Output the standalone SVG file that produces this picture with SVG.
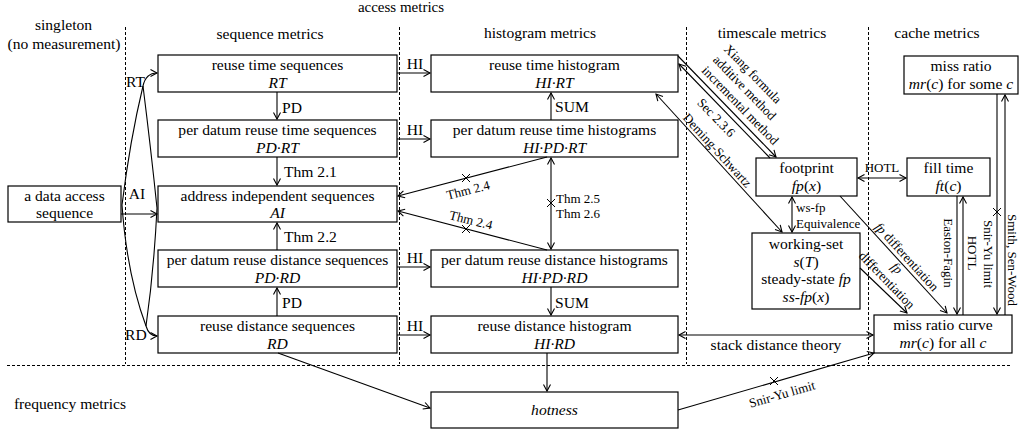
<svg xmlns="http://www.w3.org/2000/svg" width="1021" height="435" viewBox="0 0 1021 435">
<defs>
<marker id="ah" markerUnits="userSpaceOnUse" markerWidth="10" markerHeight="10" refX="6.5" refY="3.5" orient="auto-start-reverse" overflow="visible">
<path d="M0,0 L6.5,3.5 L0,7" fill="none" stroke="#000" stroke-width="1.1"/>
</marker>
<style>
.box{fill:#fff;stroke:#000;stroke-width:1.2}
text{font-family:"Liberation Serif","Times New Roman",serif;font-size:15.6px;fill:#000}
.s{font-size:13px}
.c{text-anchor:middle}
.i{font-style:italic}
.ln{fill:none;stroke:#000;stroke-width:1.1}
.a{marker-end:url(#ah)}
.aa{marker-start:url(#ah);marker-end:url(#ah)}
.dash{stroke:#000;stroke-width:1;stroke-dasharray:3 2;fill:none}
.x{stroke:#000;stroke-width:1;fill:none}
</style>
</defs>
<rect width="1021" height="435" fill="#fff"/>
<g id="dividers">
<line class="dash" x1="125.5" y1="27" x2="125.5" y2="364"/>
<line class="dash" x1="399.5" y1="27" x2="399.5" y2="364"/>
<line class="dash" x1="686.5" y1="27" x2="686.5" y2="364"/>
<line class="dash" x1="868.5" y1="27" x2="868.5" y2="364"/>
<line class="dash" x1="7" y1="365.5" x2="1012" y2="365.5"/>
</g>
<g id="titles">
<text class="c" x="401" y="12" style="font-size:15px">access metrics</text>
<text class="c" x="63.5" y="30">singleton</text>
<text class="c" x="64" y="49">(no measurement)</text>
<text class="c" x="270" y="39">sequence metrics</text>
<text class="c" x="540" y="38">histogram metrics</text>
<text class="c" x="772" y="38">timescale metrics</text>
<text class="c" x="937" y="38">cache metrics</text>
<text class="c" x="70" y="409">frequency metrics</text>
</g>
<g id="nodes">
<g id="data"><rect class="box" x="8" y="186" width="113" height="36"/><text class="c" x="64.5" y="200.5">a data access</text><text class="c" x="64.5" y="218">sequence</text></g>
<g id="rt"><rect class="box" x="158" y="55" width="239" height="37"/><text class="c" x="277.5" y="70">reuse time sequences</text><text class="c i" x="277.5" y="87.5">RT</text></g>
<g id="pdrt"><rect class="box" x="158" y="120" width="239" height="37"/><text class="c" x="277.5" y="135">per datum reuse time sequences</text><text class="c i" x="277.5" y="152.5">PD·RT</text></g>
<g id="ai"><rect class="box" x="158" y="186" width="239" height="36"/><text class="c" x="277.5" y="200.5">address independent sequences</text><text class="c i" x="277.5" y="218">AI</text></g>
<g id="pdrd"><rect class="box" x="158" y="250" width="239" height="37"/><text class="c" x="277.5" y="265">per datum reuse distance sequences</text><text class="c i" x="277.5" y="282.5">PD·RD</text></g>
<g id="rd"><rect class="box" x="158" y="316" width="239" height="37"/><text class="c" x="277.5" y="331">reuse distance sequences</text><text class="c i" x="277.5" y="348.5">RD</text></g>
<g id="hirt"><rect class="box" x="431" y="55" width="247" height="37"/><text class="c" x="554.5" y="70">reuse time histogram</text><text class="c i" x="554.5" y="87.5">HI·RT</text></g>
<g id="hipdrt"><rect class="box" x="431" y="120" width="247" height="37"/><text class="c" x="554.5" y="135">per datum reuse time histograms</text><text class="c i" x="554.5" y="152.5">HI·PD·RT</text></g>
<g id="hipdrd"><rect class="box" x="431" y="250" width="247" height="37"/><text class="c" x="554.5" y="265">per datum reuse distance histograms</text><text class="c i" x="554.5" y="282.5">HI·PD·RD</text></g>
<g id="hird"><rect class="box" x="431" y="316" width="247" height="37"/><text class="c" x="554.5" y="331">reuse distance histogram</text><text class="c i" x="554.5" y="348.5">HI·RD</text></g>
<g id="hotness"><rect class="box" x="431" y="392" width="247" height="36"/><text class="c i" x="554.5" y="415">hotness</text></g>
<g id="footprint"><rect class="box" x="756" y="158" width="101" height="38"/><text class="c" x="806.5" y="173">footprint</text><text class="c" x="806.5" y="190.5"><tspan class="i">fp</tspan>(<tspan class="i">x</tspan>)</text></g>
<g id="filltime"><rect class="box" x="907" y="158" width="83" height="38"/><text class="c" x="948.5" y="173">fill time</text><text class="c" x="948.5" y="190.5"><tspan class="i">ft</tspan>(<tspan class="i">c</tspan>)</text></g>
<g id="workingset"><rect class="box" x="752" y="233" width="108" height="76"/><text class="c" x="806" y="249">working-set</text><text class="c" x="806" y="266.5"><tspan class="i">s</tspan>(<tspan class="i">T</tspan>)</text><text class="c" x="806" y="284">steady-state <tspan class="i">fp</tspan></text><text class="c" x="806" y="302"><tspan class="i">ss-fp</tspan>(<tspan class="i">x</tspan>)</text></g>
<g id="missratio"><rect class="box" x="904" y="56" width="114" height="38"/><text class="c" x="961" y="71">miss ratio</text><text class="c" x="961" y="88.5"><tspan class="i">mr</tspan>(<tspan class="i">c</tspan>) for some <tspan class="i">c</tspan></text></g>
<g id="mrc"><rect class="box" x="874" y="315" width="138" height="38"/><text class="c" x="943" y="330">miss ratio curve</text><text class="c" x="943" y="347.5"><tspan class="i">mr</tspan>(<tspan class="i">c</tspan>) for all <tspan class="i">c</tspan></text></g>
</g>
<g id="connectors">
<path class="ln a" d="M122,205 Q130,140 143,86 C145,77 150,73 157,73"/>
<path class="ln" d="M157,208 Q151,150 143,86"/>
<path class="ln a" d="M122,205 Q127,275 146,326 C148,333 151,336 157,336"/>
<path class="ln" d="M157,208 Q154,270 146,326"/>
<text x="126" y="87">RT</text>
<text x="125" y="340">RD</text>
<path class="ln a" d="M121,214 L157,214"/>
<text class="c" x="137" y="199">AI</text>
<path class="ln a" d="M277,92 L277,119"/><text x="282" y="113">PD</text>
<path class="ln a" d="M277,157 L277,185"/><text x="284" y="177">Thm 2.1</text>
<path class="ln a" d="M277,250 L277,223"/><text x="284" y="242">Thm 2.2</text>
<path class="ln a" d="M277,316 L277,288"/><text x="282" y="308">PD</text>
<path class="ln a" d="M397,73 L430,73"/><text class="c" x="415" y="69">HI</text>
<path class="ln a" d="M397,139 L430,139"/><text class="c" x="415" y="135">HI</text>
<path class="ln a" d="M397,267 L430,267"/><text class="c" x="415" y="263">HI</text>
<path class="ln a" d="M397,335 L430,335"/><text class="c" x="415" y="331">HI</text>
<path class="ln a" d="M551,120 L551,93"/><text x="555" y="112">SUM</text>
<path class="ln aa" d="M551,158 L551,249"/>
<path class="x" d="M547,199 L555,207 M547,207 L555,199"/>
<text class="s" x="556" y="203">Thm 2.5</text>
<text class="s" x="556" y="218">Thm 2.6</text>
<path class="ln a" d="M551,287 L551,315"/><text x="555" y="308">SUM</text>
<path class="ln a" d="M547,353 L547,391"/>
<path class="ln a" d="M547,157 L398,196"/>
<path class="x" d="M462,174 L470,182 M462,182 L470,174"/>
<text class="s c" transform="translate(468,190) rotate(-14)" y="4.5">Thm 2.4</text>
<path class="ln a" d="M547,250 L398,211"/>
<path class="x" d="M462,225 L470,233 M462,233 L470,225"/>
<text class="s c" transform="translate(471,220) rotate(14)" y="4.5">Thm 2.4</text>
<path class="ln a" d="M278,353 L430,408"/>
<path class="ln a" d="M678,56 L776,157"/>
<path class="ln a" d="M770,158 L679,64"/>
<g transform="translate(678,56) rotate(45.9)">
<text class="s" x="27" y="-37">Xiang formula</text>
<text class="s" x="27" y="-21.5">additive method</text>
<text class="s" x="27" y="-6">incremental method</text>
</g>
<g transform="translate(679,64) rotate(45.9)">
<text class="s c" x="64.5" y="15">Sec 2.3.6</text>
</g>
<path class="ln aa" d="M782,232 L656,94"/>
<g transform="translate(656,94) rotate(47.6)">
<text class="s c" x="83" y="-3">Deming-Schwartz</text>
</g>
<path class="ln aa" d="M792,197 L792,232"/>
<text class="s" x="796" y="212">ws-fp</text>
<text class="s" x="796" y="228">Equivalence</text>
<path class="ln aa" d="M858,178 L906,178"/>
<text class="s c" x="882" y="172">HOTL</text>
<path class="ln a" d="M840,196 L947,313"/>
<g transform="translate(840,196) rotate(47.6)">
<text class="s c" x="90" y="-4"><tspan class="i">fp</tspan> differentiation</text>
</g>
<path class="ln a" d="M860,268 L907,313"/>
<text class="s c i" transform="translate(897,268) rotate(46)" y="4.5">fp</text>
<text class="s c" transform="translate(887,280) rotate(46)" y="4.5">differentiation</text>
<path class="ln a" d="M957,196 L957,314"/>
<text class="s c" transform="translate(948.5,253) rotate(90)" y="4.5">Easton-Fagin</text>
<path class="ln a" d="M963,315 L963,197"/>
<text class="s c" transform="translate(972,253) rotate(90)" y="4.5">HOTL</text>
<path class="ln a" d="M997,94 L997,314"/>
<path class="x" d="M993,208 L1001,216 M993,216 L1001,208"/>
<text class="s c" transform="translate(988,254) rotate(90)" y="4.5">Snir-Yu limit</text>
<path class="ln a" d="M1005,315 L1005,95"/>
<text class="s c" transform="translate(1012.5,260) rotate(90)" y="4.5">Smith, Sen-Wood</text>
<path class="ln aa" d="M679,335 L873,335"/>
<text class="c" x="776" y="350">stack distance theory</text>
<path class="ln a" d="M678,410 L874,353"/>
<path class="x" d="M770,377 L778,385 M770,385 L778,377"/>
<text class="s c" transform="translate(782,394) rotate(-16)" y="4.5">Snir-Yu limit</text>
</g>
</svg>
